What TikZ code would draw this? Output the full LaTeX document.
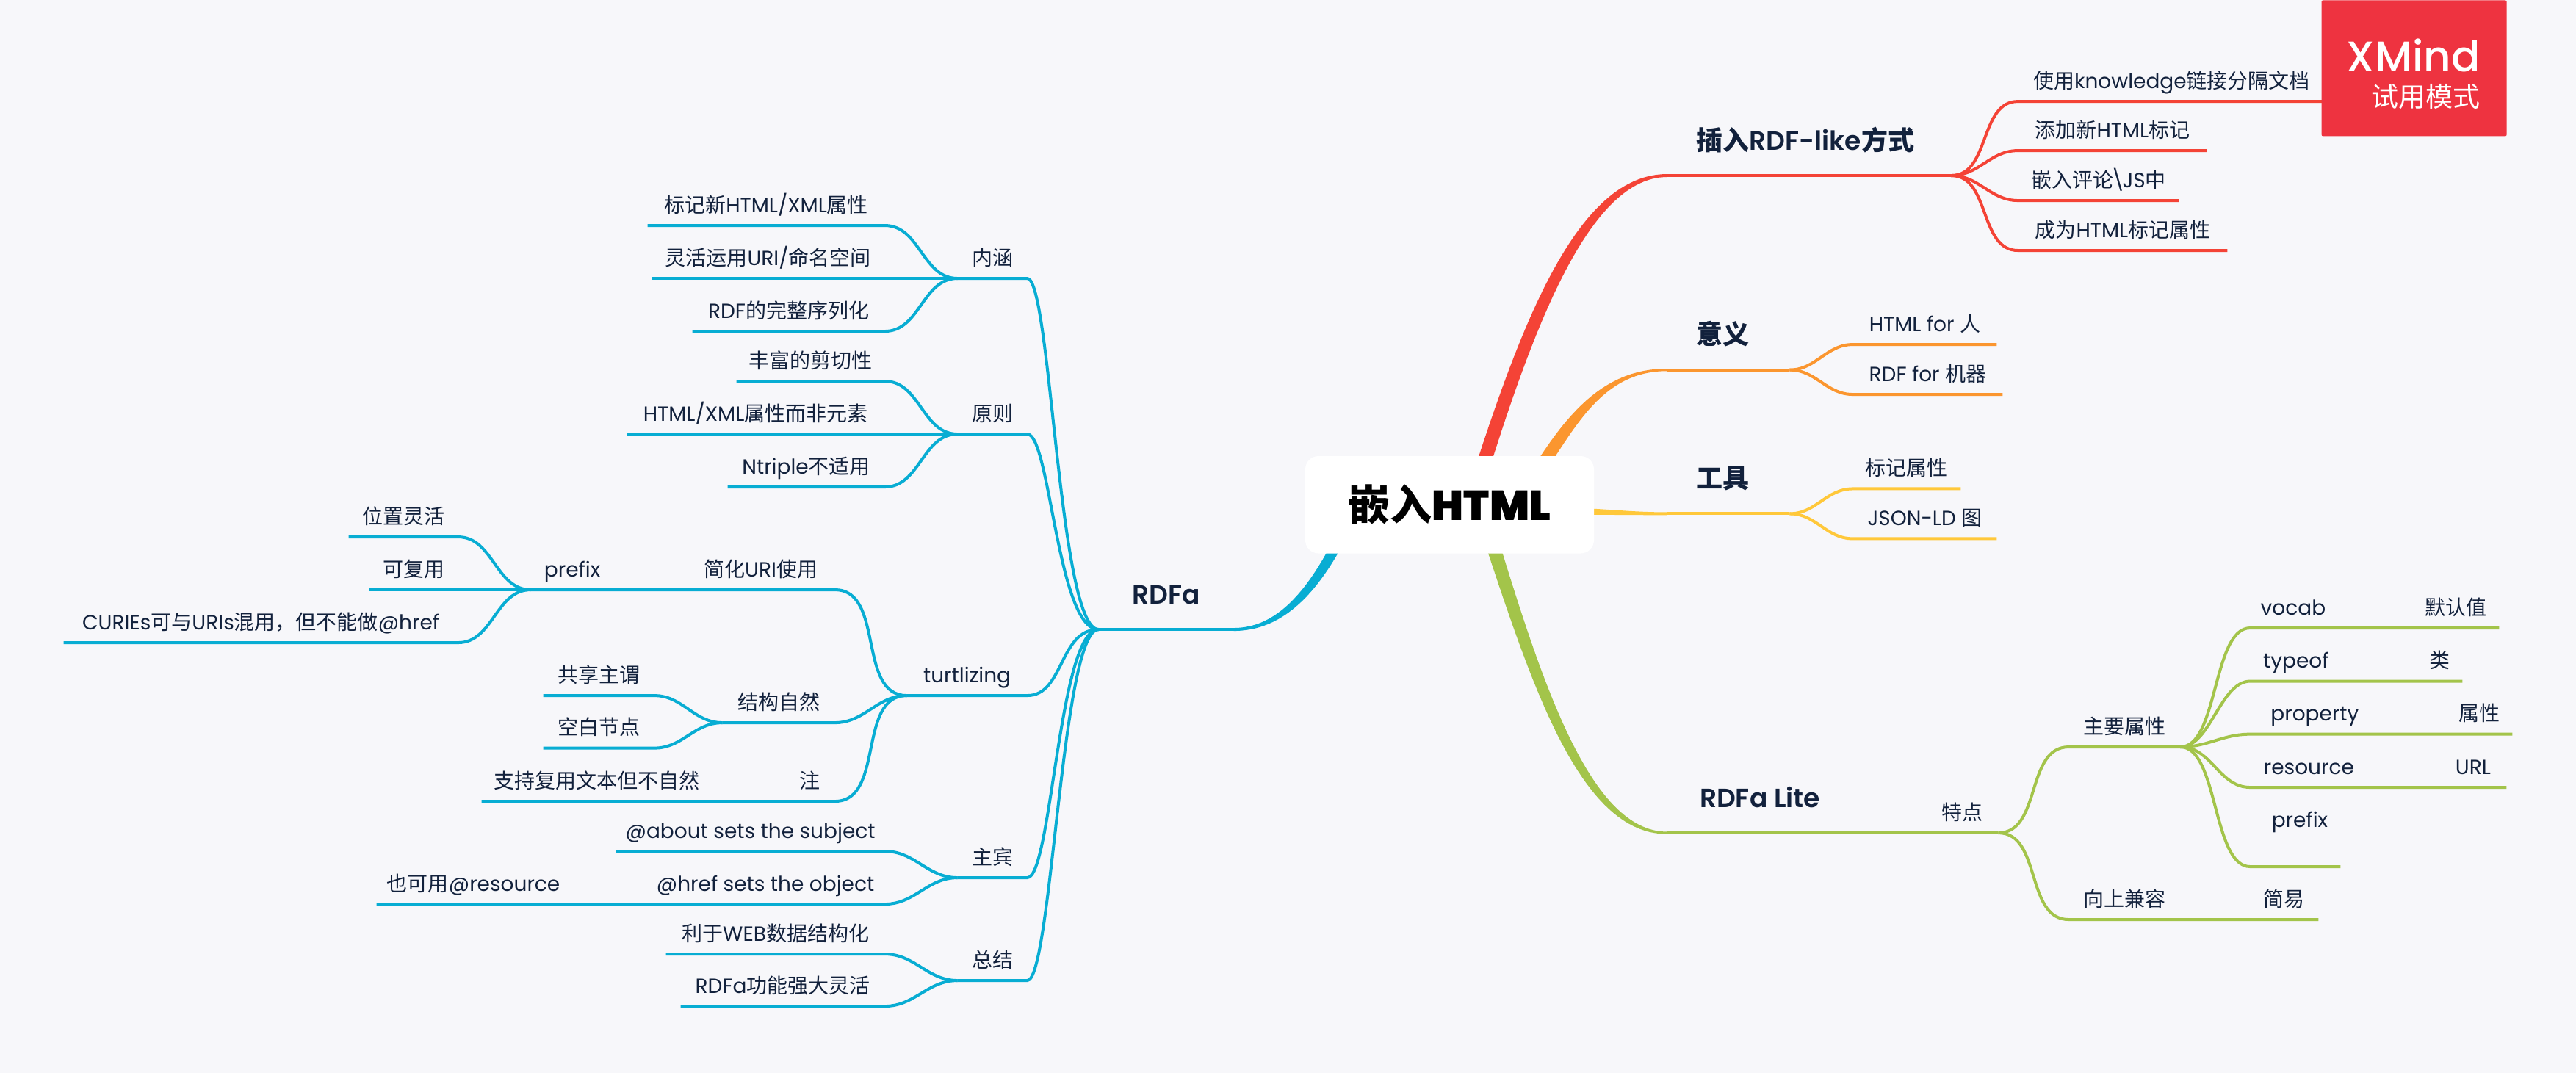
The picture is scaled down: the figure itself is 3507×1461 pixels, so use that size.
\documentclass[tikz,border=0pt]{standalone}
\usepackage{fontspec}
\setmainfont{Poppins}[BoldFont=Poppins SemiBold]
\newfontfamily\zhfont{Noto Sans CJK SC}
\usetikzlibrary{positioning, backgrounds, calc}
\newcommand{\zh}[1]{{\zhfont #1}}
\definecolor{pagebg}{HTML}{F7F7FA}
\definecolor{ink}{HTML}{12213C}
\definecolor{redc}{HTML}{F44336}
\definecolor{orangec}{HTML}{FB962F}
\definecolor{yellowc}{HTML}{FFC83A}
\definecolor{greenc}{HTML}{A3C44A}
\definecolor{bluec}{HTML}{08ADD3}
\definecolor{tagc}{HTML}{EE3340}

\begin{document}
\begin{tikzpicture}[x=.5pt, y=-.5pt,
                  sub/.style={inner sep=0pt, outer sep=0pt, text=ink, font=\fontsize{14}{17}\selectfont,
                              text height=12pt, text depth=9pt},
                  topic/.style={sub, font=\bfseries\fontsize{18}{20}\selectfont, text height=14pt, text depth=17.5pt},
                  rootbox/.style={fill=white, rounded corners=9pt, inner sep=0pt, font=\fontspec{Poppins Bold}\bfseries\fontsize{28.5}{32}\selectfont,
                              minimum width=196.5pt, minimum height=66.25pt},
                  tagbox/.style={fill=tagc, inner sep=0pt, rounded corners=1pt, minimum width=126pt, minimum height=92.5pt},
                  redln/.style={draw=redc, line width=2pt},
                  orangeln/.style={draw=orangec, line width=2pt},
                  yellowln/.style={draw=yellowc, line width=2pt},
                  greenln/.style={draw=greenc, line width=2pt},
                  blueln/.style={draw=bluec, line width=2pt},
                  rfan/.style={out=0, in=180},
                  lfan/.style={out=180, in=0},
            ]
            \useasboundingbox (0,0) rectangle (3507,1461);
            \begin{scope}[on background layer]
                  \fill[pagebg] (0,0) rectangle (3507,1461);
            \end{scope}

            \node[rootbox] (root) at (1973.5,687.25) {\zh{嵌入}HTML};

            \node[topic, above right=224.1pt and 49.5pt of root.east, minimum width=188.5pt] (ins) {\zh{插入}RDF-like\zh{方式}};
            \node[sub, above right=50.5pt and 50.5pt of ins.south east, minimum width=209pt] (ins1) {\zh{使用}knowledge\zh{链接分隔文档}};
            \node[sub, above right=17pt and 50.5pt of ins.south east, minimum width=128.5pt] (ins2) {\zh{添加新}HTML\zh{标记}};
            \node[sub, above right=-17pt and 50.5pt of ins.south east, minimum width=109.5pt] (ins3) {\zh{嵌入评论}\kern-1.5pt\textbackslash\kern-1.5pt JS\zh{中}};
            \node[sub, above right=-51pt and 50.5pt of ins.south east, minimum width=142.5pt] (ins4) {\zh{成为}HTML\zh{标记属性}};

            \node[topic, above right=91.8pt and 49.5pt of root.east, minimum width=76.5pt] (mean) {\zh{意义}};
            \node[sub, above right=17.3pt and 50pt of mean.south east, minimum width=98pt] (mean1) {HTML for \zh{人}};
            \node[sub, above right=-16.7pt and 50pt of mean.south east, minimum width=102pt] (mean2) {RDF for \zh{机器}};

            \node[topic, above right=-6.1pt and 49.5pt of root.east, minimum width=76.5pt] (tool) {\zh{工具}};
            \node[sub, above right=17pt and 50pt of tool.south east, minimum width=73.5pt] (tool1) {\zh{标记属性}};
            \node[sub, above right=-17pt and 50pt of tool.south east, minimum width=98pt] (tool2) {JSON-LD \zh{图}};

            \node[topic, above right=-223.4pt and 49.5pt of root.east, minimum width=126.5pt] (lite) {RDFa Lite};
            \node[sub, above right=0pt and 50.5pt of lite.south east, minimum width=48.5pt] (trait) {\zh{特点}};
            \node[sub, above right=58.5pt and 48pt of trait.south east, minimum width=76pt] (attrs) {\zh{主要属性}};
            \node[sub, above right=-59pt and 48pt of trait.south east, minimum width=76pt] (compat) {\zh{向上兼容}};
            \node[sub, above right=0pt and 47.5pt of compat.south east, minimum width=46.5pt] (easy) {\zh{简易}};
            \node[sub, above right=81pt and 47.5pt of attrs.south east, minimum width=58.5pt] (vocab) {vocab};
            \node[sub, above right=0pt and 52pt of vocab.south east, minimum width=59pt] (vocabv) {\zh{默认值}};
            \node[sub, above right=44.75pt and 47.5pt of attrs.south east, minimum width=62.5pt] (typeof) {typeof};
            \node[sub, above right=0pt and 51.5pt of typeof.south east, minimum width=30.5pt] (typeofv) {\zh{类}};
            \node[sub, above right=8.7pt and 47.5pt of attrs.south east, minimum width=88pt] (prop) {property};
            \node[sub, above right=0pt and 46pt of prop.south east, minimum width=44.5pt] (propv) {\zh{属性}};
            \node[sub, above right=-27.5pt and 47.5pt of attrs.south east, minimum width=80pt] (res) {resource};
            \node[sub, above right=0pt and 49pt of res.south east, minimum width=45.5pt] (resv) {URL};
            \node[sub, above right=-81.5pt and 47.5pt of attrs.south east, minimum width=61.5pt, text depth=27pt] (pre) {\hspace*{6pt}prefix};

            \node[topic, above left=-84.9pt and 48.5pt of root.west, minimum width=92pt] (rdfa) {RDFa};

            \node[sub, above left=239pt and 48.5pt of rdfa.south west, minimum width=47.5pt] (sense) {\zh{内涵}};
            \node[sub, above left=36pt and 49.5pt of sense.south west, minimum width=161.5pt] (sense1) {\zh{标记新}HTML/XML\zh{属性}};
            \node[sub, above left=0pt and 49.5pt of sense.south west, minimum width=159pt] (sense2) {\zh{灵活运用}URI/\zh{命名空间}};
            \node[sub, above left=-36pt and 49.5pt of sense.south west, minimum width=131pt] (sense3) {RDF\zh{的完整序列化}};

            \node[sub, above left=133pt and 48.5pt of rdfa.south west, minimum width=47.5pt] (rule) {\zh{原则}};
            \node[sub, above left=36pt and 49.5pt of rule.south west, minimum width=101pt] (rule1) {\zh{丰富的剪切性}};
            \node[sub, above left=0pt and 49.5pt of rule.south west, minimum width=176pt] (rule2) {HTML/XML\zh{属性而非元素}};
            \node[sub, above left=-36pt and 49.5pt of rule.south west, minimum width=107pt] (rule3) {Ntriple\zh{不适用}};

            \node[sub, above left=-45pt and 48.5pt of rdfa.south west, minimum width=82pt] (turt) {turtlizing};
            \node[sub, above left=72pt and 49pt of turt.south west, minimum width=101pt] (easyuri) {\zh{简化}URI\zh{使用}};
            \node[sub, above left=0pt and 49.5pt of easyuri.south west, minimum width=56.5pt] (prefix) {prefix};
            \node[sub, above left=36pt and 49.5pt of prefix.south west, minimum width=74.5pt] (prefix1) {\zh{位置灵活}};
            \node[sub, above left=0pt and 49.5pt of prefix.south west, minimum width=60.5pt] (prefix2) {\zh{可复用}};
            \node[sub, above left=-36pt and 49.5pt of prefix.south west, minimum width=268.5pt] (prefix3) {CURIEs\zh{可与}URIs\zh{混用，但不能做}@href};
            \node[sub, above left=-18.5pt and 49pt of turt.south west, minimum width=76.5pt] (natural) {\zh{结构自然}};
            \node[sub, above left=18.5pt and 46.5pt of natural.south west, minimum width=75.5pt] (natural1) {\zh{共享主谓}};
            \node[sub, above left=-17.3pt and 46.5pt of natural.south west, minimum width=75.5pt] (natural2) {\zh{空白节点}};
            \node[sub, above left=-72pt and 49pt of turt.south west, minimum width=34pt] (remark) {\zh{注}};
            \node[sub, above left=0pt and 49.5pt of remark.south west, minimum width=157pt] (remark1) {\zh{支持复用文本但不自然}};

            \node[sub, above left=-169pt and 48.5pt of rdfa.south west, minimum width=47.5pt] (subj) {\zh{主宾}};
            \node[sub, above left=18pt and 49.5pt of subj.south west, minimum width=183pt] (subj1) {@about sets the subject};
            \node[sub, above left=-18pt and 49.5pt of subj.south west, minimum width=162.5pt] (subj2) {@href sets the object};
            \node[sub, above left=0pt and 51.5pt of subj2.south west, minimum width=132pt] (subj3) {\zh{也可用}@resource};

            \node[sub, above left=-239pt and 48.5pt of rdfa.south west, minimum width=47.5pt] (sum) {\zh{总结}};
            \node[sub, above left=18pt and 49.5pt of sum.south west, minimum width=149pt] (sum1) {\zh{利于}WEB\zh{数据结构化}};
            \node[sub, above left=-17.5pt and 49.5pt of sum.south west, minimum width=139pt] (sum2) {RDFa\zh{功能强大灵活}};

            \begin{scope}[on background layer]
                  \fill[redc] ([yshift=1pt]ins.south west) .. controls +(-119,0) and +(68,-210) .. ($(root.center)+(33.5,-47)$)
                        -- ($(root.center)+(53.5,-47)$) .. controls +(63,-200) and +(-104,0) .. ([yshift=-1pt]ins.south west) -- cycle;
                  \fill[orangec] ([yshift=.8pt]mean.south west) .. controls +(-84,0) and +(50,-80) .. ($(root.center)+(111.5,-47)$)
                        -- ($(root.center)+(131.5,-47)$) .. controls +(43,-65) and +(-84,0) .. ([yshift=-.8pt]mean.south west) -- cycle;
                  \fill[yellowc] ([yshift=1pt]tool.south west) .. controls +(-40,0) and +(40,2) .. ($(root.east)+(-10,5)$)
                        -- ($(root.east)+(-10,13.5)$) -- ([yshift=-1pt]tool.south west) -- cycle;
                  \fill[greenc] ([yshift=-.8pt]lite.south west) .. controls +(-119,0) and +(65,195) .. ($(root.center)+(46.5,48)$)
                        -- ($(root.center)+(66.5,48)$) .. controls +(60,195) and +(-104,0) .. ([yshift=.8pt]lite.south west) -- cycle;
                  \fill[bluec] ([yshift=1pt]rdfa.south east) .. controls +(55,0) and +(-35,65) .. ($(root.center)+(-163.5,58)$)
                        -- ($(root.center)+(-147.5,58)$) .. controls +(-36,65) and +(65,0) .. ([yshift=-1pt]rdfa.south east) -- cycle;
            \end{scope}

            \draw[redln] (ins.south west) -- ++(387,0) coordinate (insfan);
            \draw[redln] (insfan) to[rfan] (ins1.south west) -- (ins1.south east);
            \draw[redln] (insfan) to[rfan] (ins2.south west) -- (ins2.south east);
            \draw[redln] (insfan) to[rfan] (ins3.south west) -- (ins3.south east);
            \draw[redln] (insfan) to[rfan] (ins4.south west) -- (ins4.south east);

            \draw[orangeln] (mean.south west) -- ++(167,0) coordinate (meanfan);
            \draw[orangeln] (meanfan) to[rfan] (mean1.south west) -- (mean1.south east);
            \draw[orangeln] (meanfan) to[rfan] (mean2.south west) -- (mean2.south east);

            \draw[yellowln] (tool.south west) -- ++(167,0) coordinate (toolfan);
            \draw[yellowln] (toolfan) to[rfan] (tool1.south west) -- (tool1.south east);
            \draw[yellowln] (toolfan) to[rfan] (tool2.south west) -- (tool2.south east);

            \draw[greenln] (lite.south west) -- (trait.south west) -- (trait.south east);
            \draw[greenln] (trait.south east) to[rfan] (attrs.south west) -- (attrs.south east);
            \draw[greenln] (trait.south east) to[rfan] (compat.south west) -- (easy.south east);
            \draw[greenln] (attrs.south east) to[rfan, looseness=.7] (vocab.south west) -- (vocabv.south east);
            \draw[greenln] (attrs.south east) to[rfan, looseness=.8] (typeof.south west) -- (typeofv.south east);
            \draw[greenln] (attrs.south east) to[rfan] (prop.south west) -- (propv.south east);
            \draw[greenln] (attrs.south east) to[rfan] (res.south west) -- (resv.south east);
            \draw[greenln] (attrs.south east) to[rfan, looseness=.7] (pre.south west) -- (pre.south east);

            \draw[blueln] (rdfa.south west) -- (rdfa.south east);
            \draw[blueln] (rdfa.south west) .. controls +(-54,0) and +(32,0) .. (sense.south east) -- (sense.south west);
            \draw[blueln] (rdfa.south west) .. controls +(-56,0) and +(31,0) .. (rule.south east) -- (rule.south west);
            \draw[blueln] (rdfa.south west) .. controls +(-54,0) and +(50,0) .. (turt.south east) -- (turt.south west);
            \draw[blueln] (rdfa.south west) .. controls +(-54,0) and +(33,0) .. (subj.south east) -- (subj.south west);
            \draw[blueln] (rdfa.south west) .. controls +(-50,0) and +(33,0) .. (sum.south east) -- (sum.south west);

            \draw[blueln] (sense.south west) to[lfan] (sense1.south east) -- (sense1.south west);
            \draw[blueln] (sense.south west) -- (sense2.south east) -- (sense2.south west);
            \draw[blueln] (sense.south west) to[lfan] (sense3.south east) -- (sense3.south west);
            \draw[blueln] (rule.south west) to[lfan] (rule1.south east) -- (rule1.south west);
            \draw[blueln] (rule.south west) -- (rule2.south east) -- (rule2.south west);
            \draw[blueln] (rule.south west) to[lfan] (rule3.south east) -- (rule3.south west);

            \draw[blueln] (turt.south west) to[lfan] (easyuri.south east) -- (prefix.south east) -- (prefix.south west);
            \draw[blueln] (prefix.south west) to[lfan] (prefix1.south east) -- (prefix1.south west);
            \draw[blueln] (prefix.south west) -- (prefix2.south east) -- (prefix2.south west);
            \draw[blueln] (prefix.south west) to[lfan] (prefix3.south east) -- (prefix3.south west);
            \draw[blueln] (turt.south west) to[lfan] (natural.south east) -- (natural.south west);
            \draw[blueln] (natural.south west) to[lfan] (natural1.south east) -- (natural1.south west);
            \draw[blueln] (natural.south west) to[lfan] (natural2.south east) -- (natural2.south west);
            \draw[blueln] (turt.south west) to[lfan] (remark.south east) -- (remark1.south west);

            \draw[blueln] (subj.south west) to[lfan] (subj1.south east) -- (subj1.south west);
            \draw[blueln] (subj.south west) to[lfan] (subj2.south east) -- (subj3.south west);
            \draw[blueln] (sum.south west) to[lfan] (sum1.south east) -- (sum1.south west);
            \draw[blueln] (sum.south west) to[lfan] (sum2.south east) -- (sum2.south west);

            \node[tagbox, anchor=north east] (tag) at (3413,0) {};
            \node[font=\fontsize{29}{32}\selectfont\fontspec{Poppins Medium}, text=white, inner sep=0pt, above left=44pt and 18pt of tag.south east, anchor=base east] (tagname) {XMind};
            \node[font=\zhfont\fontsize{18.5}{22}\selectfont, text=white, inner sep=0pt, below left=8pt and 0pt of tagname.base east, anchor=north east] (tagmode) {试用模式};
\end{tikzpicture}
\end{document}
